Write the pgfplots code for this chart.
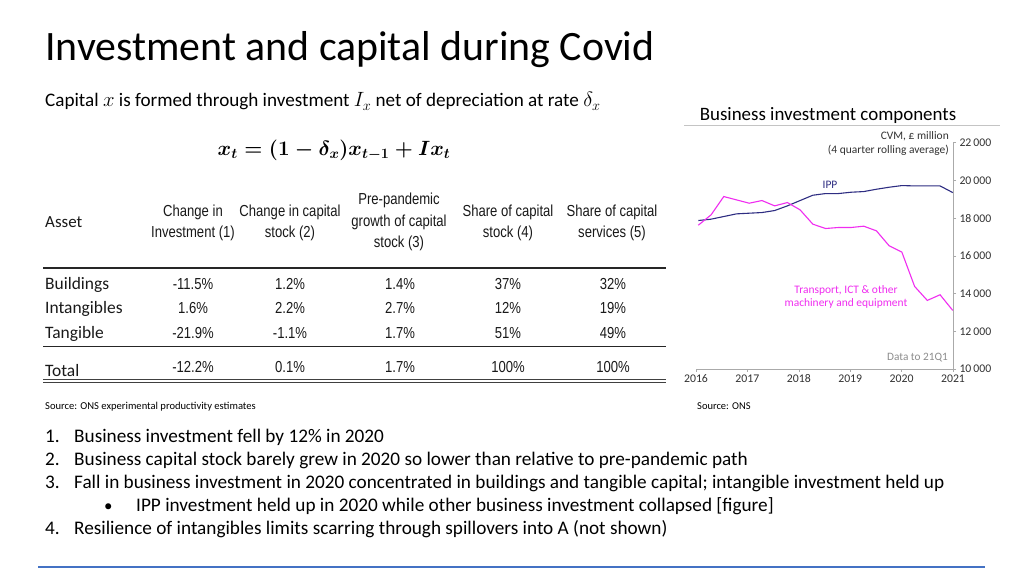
\documentclass[border=0pt]{standalone}
\usepackage{pgfplots}
\pgfplotsset{compat=1.18}
\usepackage{fontspec}
\setmainfont{Carlito}
\newfontfamily\narrowfont[FakeStretch=0.82]{Liberation Sans}
\definecolor{ippblue}{RGB}{46,45,130}
\definecolor{tpink}{RGB}{240,45,240}
\definecolor{axisgray}{RGB}{170,170,170}
\definecolor{txtgray}{RGB}{50,50,50}
\definecolor{slideblue}{RGB}{68,114,196}
\definecolor{tabtxt}{RGB}{25,25,25}
\newcommand{\fsz}[1]{\fontsize{#1}{#1}\selectfont}
\newsavebox\formbox
\newsavebox\subbox
\begin{document}
\sbox\subbox{\fsz{19.2}Capital $x$ is formed through investment $I_x$ net of depreciation at rate $\delta_x$}%
\sbox\formbox{\fsz{22}\boldmath$x_t = (1-\delta_x)x_{t-1}+Ix_t$}%
\begin{tikzpicture}
\begin{scope}[x=1bp,y=1bp]
\path[use as bounding box, fill=white] (0,0) rectangle (1024,576);
% title
\node[anchor=base west, inner sep=0] at (45,515) {\fsz{42}Investment and capital during Covid};
\node[anchor=base west, inner sep=0] at (45,469) {\usebox\subbox};
\node[anchor=center, inner sep=0] at (334,426) {\usebox\formbox};
% table
\begin{scope}[every node/.style={inner sep=0, text=tabtxt, font=\narrowfont\fsz{16}}]
\node[anchor=west, font=\fsz{17}] at (45,354) {Asset};
\node at (193,364) {Change in};
\node at (193,343) {Investment (1)};
\node at (290,364) {Change in capital};
\node at (290,343) {stock (2)};
\node at (399,376) {Pre-pandemic};
\node at (399,354) {growth of capital};
\node at (399,333) {stock (3)};
\node at (508,364) {Share of capital};
\node at (508,343) {stock (4)};
\node at (612,364) {Share of capital};
\node at (612,343) {services (5)};
\node[anchor=west, font=\fsz{17.5}] at (45,291) {Buildings};
\node[anchor=west, font=\fsz{17.5}] at (45,267) {Intangibles};
\node[anchor=west, font=\fsz{17.5}] at (45,242) {Tangible};
\node[anchor=west, font=\fsz{17.5}] at (45,205) {Total};
\node at (193,292) {-11.5\%}; \node at (290,292) {1.2\%}; \node at (400,292) {1.4\%}; \node at (508,292) {37\%}; \node at (613,292) {32\%};
\node at (193,268) {1.6\%}; \node at (290,268) {2.2\%}; \node at (400,268) {2.7\%}; \node at (508,268) {12\%}; \node at (613,268) {19\%};
\node at (193,243) {-21.9\%}; \node at (290,243) {-1.1\%}; \node at (400,243) {1.7\%}; \node at (508,243) {51\%}; \node at (613,243) {49\%};
\node at (193,209) {-12.2\%}; \node at (290,209) {0.1\%}; \node at (400,209) {1.7\%}; \node at (508,209) {100\%}; \node at (613,209) {100\%};
\end{scope}
\draw[line width=1.8bp, black!85] (43,308) -- (666,308);
\draw[line width=0.7bp, black!85] (43,230) -- (666,230);
\draw[line width=0.8bp, black!75] (43,196.5) -- (666,196.5);
\draw[line width=0.8bp, black!75] (43,193.5) -- (666,193.5);
\node[anchor=west, inner sep=0] at (45,169) {\fsz{10.6}Source: ONS experimental productivity estimates};
% chart texts
\node[inner sep=0] at (828,460) {\fsz{19}Business investment components};
\draw[line width=0.6bp, axisgray!70] (684,450.5) -- (1000,450.5);
\node[anchor=east, inner sep=0, text=txtgray] at (949,440) {\fsz{11.5}CVM, \pounds\ million};
\node[anchor=east, inner sep=0, text=txtgray] at (949,426) {\fsz{11.5}(4 quarter rolling average)};
\node[inner sep=0, text=ippblue] at (830,391) {\fsz{11.5}IPP};
\node[inner sep=0, text=tpink] at (846,286) {\fsz{11.5}Transport, ICT \& other};
\node[inner sep=0, text=tpink] at (846,273) {\fsz{11.5}machinery and equipment};
\node[anchor=east, inner sep=0, text=black!45] at (948,218) {\fsz{11.3}Data to 21Q1};
\node[anchor=west, inner sep=0] at (697,170) {\fsz{10.5}Source: ONS};
% bullet points
\begin{scope}[every node/.style={anchor=base west, inner sep=0, font=\fsz{19.3}}]
\node at (45,133) {1.}; \node at (74,133) {Business investment fell by 12\% in 2020};
\node at (45,110) {2.}; \node at (74,110) {Business capital stock barely grew in 2020 so lower than relative to pre-pandemic path};
\node at (45,87) {3.}; \node at (74,87) {Fall in business investment in 2020 concentrated in buildings and tangible capital; intangible investment held up};
\node[font=\fsz{17}] at (104,64) {\textbullet}; \node at (136,64) {IPP investment held up in 2020 while other business investment collapsed [figure]};
\node at (45,41) {4.}; \node at (74,41) {Resilience of intangibles limits scarring through spillovers into A (not shown)};
\end{scope}
\draw[line width=2bp, slideblue] (38,9) -- (985,9);
\end{scope}
\begin{axis}[at={(696bp,207bp)}, anchor=south west, scale only axis,
  width=257bp, height=226.3bp,
  xmin=2016, xmax=2021, ymin=10000, ymax=22000,
  axis x line=bottom, axis y line=right,
  axis line style={-, draw=axisgray, line width=0.8bp},
  xtick={2016,2017,2018,2019,2020,2021},
  ytick={10000,12000,14000,16000,18000,20000,22000},
  scaled y ticks=false, scaled x ticks=false,
  tick align=outside, major tick length=3bp,
  tick style={draw=axisgray, line width=0.6bp},
  x tick label style={font=\fsz{11.8}, text=txtgray, anchor=north, text height=8.5bp, text depth=1bp, inner sep=2bp, /pgf/number format/1000 sep={}},
  y tick label style={font=\fsz{11.8}, text=txtgray, /pgf/number format/fixed, /pgf/number format/1000 sep={\,}},
  /pgf/number format/assume math mode=true,
  clip=false]
\addplot[ippblue, line width=1.1bp, mark=none] table[x=x,y=y] {
x y
2016.045 17873
2016.293 17944
2016.540 18085
2016.788 18226
2017.035 18261
2017.283 18296
2017.530 18402
2017.778 18650
2018.025 18932
2018.273 19214
2018.520 19302
2018.768 19302
2019.015 19373
2019.263 19408
2019.510 19532
2019.758 19638
2020.005 19726
2020.253 19708
2020.500 19708
2020.748 19708
2020.995 19355
};
\addplot[tpink, line width=1.1bp, mark=none] table[x=x,y=y] {
x y
2016.045 17626
2016.293 18173
2016.540 19144
2016.788 18967
2017.035 18791
2017.283 18932
2017.530 18650
2017.778 18826
2018.025 18438
2018.273 17679
2018.520 17449
2018.768 17502
2019.015 17502
2019.263 17573
2019.510 17326
2019.758 16531
2020.005 16196
2020.253 14378
2020.500 13636
2020.748 13936
2020.995 13106
};
\end{axis}
\end{tikzpicture}
\end{document}
